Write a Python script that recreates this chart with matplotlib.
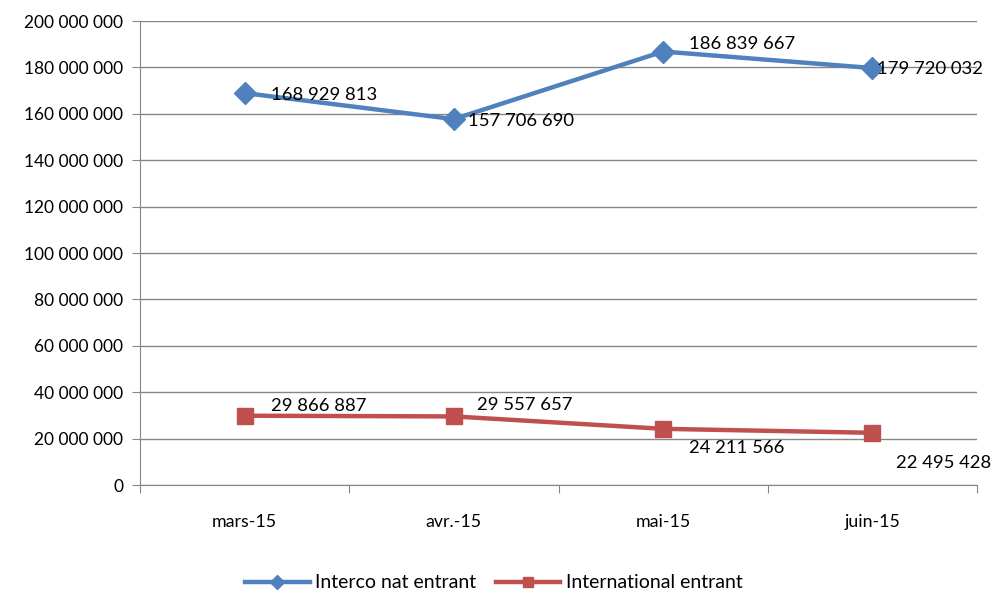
import numpy as np
import matplotlib.pyplot as plt
from matplotlib.ticker import FuncFormatter

plt.rcParams['font.family'] = ['Lato', 'DejaVu Sans']

months = ["mars-15", "avr.-15", "mai-15", "juin-15"]
interco = [168929813, 157706690, 186839667, 179720032]
international = [29866887, 29557657, 24211566, 22495428]

# label offsets in pixels (dx, dy) relative to each point
interco_off = [(26, -2), (14, -2), (26, 8), (5, -1)]
inter_off = [(26, 10), (23, 11), (26, -19), (24, -30)]

blue = "#4F81BD"
red = "#C0504D"
grey = "#868686"


def fmt(v):
    return f"{int(v):,}".replace(",", " ")


fig = plt.figure(figsize=(9.99, 5.93), dpi=100)
ax = fig.add_axes([140 / 999, 108 / 593, 837 / 999, 464 / 593])

x = np.arange(len(months))
ax.plot(x, interco, color=blue, lw=3.2, marker="D", ms=11, label="Interco nat entrant")
ax.plot(x, international, color=red, lw=3.2, marker="s", ms=11.5, label="International entrant")

for xi, v, (dx, dy) in zip(x, interco, interco_off):
    ax.annotate(fmt(v), (xi, v), xytext=(dx, dy), textcoords="offset pixels",
                ha="left", va="center", fontsize=13.3, annotation_clip=False)
for xi, v, (dx, dy) in zip(x, international, inter_off):
    ax.annotate(fmt(v), (xi, v), xytext=(dx, dy), textcoords="offset pixels",
                ha="left", va="center", fontsize=13.3, annotation_clip=False)

ax.set_xlim(-0.5, len(months) - 0.5)
ax.set_ylim(0, 200000000)
ax.set_yticks(np.arange(0, 200000001, 20000000))
ax.yaxis.set_major_formatter(FuncFormatter(lambda v, p: fmt(v)))
ax.grid(axis="y", color=grey, lw=1)
ax.set_axisbelow(True)

ax.set_xticks(np.arange(-0.5, len(months), 1.0))
ax.set_xticklabels([])
ax.set_xticks(x, minor=True)
ax.set_xticklabels(months, minor=True)
ax.tick_params(axis="x", which="minor", length=0, pad=21, labelsize=12.8)
ax.tick_params(axis="x", which="major", length=6, color=grey, direction="out")
ax.tick_params(axis="y", length=6, color=grey, labelsize=12.5, pad=6)

for s in ["top", "right"]:
    ax.spines[s].set_visible(False)
for s in ["left", "bottom"]:
    ax.spines[s].set_color(grey)

ax.legend(loc="center", bbox_to_anchor=(0.423, -0.211), ncol=2, frameon=False,
          fontsize=14, handlelength=3.3, columnspacing=1.0, handletextpad=0.3,
          markerscale=0.65)

fig.savefig("out.png", dpi=100)
